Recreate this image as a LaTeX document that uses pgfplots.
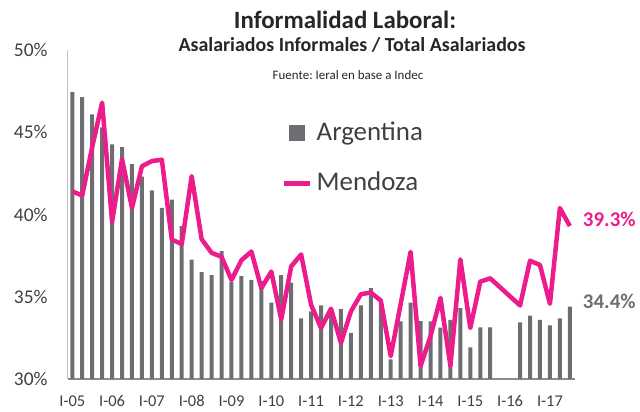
\documentclass[border=0pt]{standalone}
\usepackage{fontspec}
\setmainfont{Carlito}
\usepackage{pgfplots}
\pgfplotsset{compat=1.18}
\definecolor{argray}{HTML}{6D6E71}
\definecolor{mzpink}{HTML}{EC1C8C}
\definecolor{txt}{HTML}{404040}
\frenchspacing
\begin{document}
\begin{tikzpicture}
\useasboundingbox (0,0) rectangle (640bp,412bp);
\node[font=\bfseries\fontsize{25}{25}\selectfont, text=black!85] at (345bp,392bp) {Informalidad Laboral:};
\node[font=\bfseries\fontsize{20}{20}\selectfont, text=black!85] at (352bp,367bp) {Asalariados Informales / Total Asalariados};
\node[font=\fontsize{13}{13}\selectfont, text=black!85] at (348bp,337bp) {Fuente: Ieral en base a Indec};
\begin{axis}[
  at={(67.7bp,33bp)}, anchor=south west,
  scale only axis, width=507.3bp, height=329bp,
  xmin=-0.46, xmax=50.52, ymin=30, ymax=50,
  axis x line=bottom, axis y line=left,
  x axis line style={-, draw=black!45, line width=2.5bp},
  y axis line style={-, draw=black!25, line width=0.8bp},
  xtick={0,4,...,48},
  xticklabels={I-05,I-06,I-07,I-08,I-09,I-10,I-11,I-12,I-13,I-14,I-15,I-16,I-17},
  ytick={30,35,40,45,50},
  yticklabels={30\%,35\%,40\%,45\%,50\%},
  major tick length=0pt,
  xticklabel style={font=\fontsize{16.5}{16.5}\selectfont, text=txt, anchor=base, yshift=-27.7bp, inner sep=0pt},
  yticklabel style={font=\fontsize{19.5}{19.5}\selectfont, text=txt, anchor=east, inner sep=0pt, xshift=-20bp},
  clip=false,
  legend cell align=left,
  legend style={at={(0.4224,0.787)}, anchor=north west, draw=none, fill=none, inner sep=0pt,
    font=\fontsize{27}{27}\selectfont, text=txt, row sep=24bp,
    nodes={inner sep=0pt, text height=20bp, text depth=6bp},
    /tikz/every odd column/.append style={column sep=4bp}},
]
\addplot[ybar, bar width=4bp, fill=argray, draw=none,
  legend image code/.code={\fill[argray] (5bp,-8bp) rectangle (21bp,8bp);}]
coordinates {
(0,47.44) (1,47.14) (2,46.09) (3,45.3) (4,44.27) (5,44.1) (6,43.06) (7,42.3)
(8,41.46) (9,40.41) (10,40.9) (11,39.29) (12,37.25) (13,36.49) (14,36.32) (15,37.78)
(16,35.9) (17,36.26) (18,36.02) (19,35.95) (20,34.65) (21,36.32) (22,35.86) (23,33.68)
(24,34.11) (25,34.48) (26,34.34) (27,34.25) (28,32.8) (29,34.48) (30,35.53) (31,34.8)
(32,31.2) (33,33.5) (34,34.65) (35,33.52) (36,33.5) (37,33.12) (38,33.6) (39,34.31)
(40,31.93) (41,33.14) (42,33.14) (45,33.44) (46,33.85) (47,33.6) (48,33.26) (49,33.69)
(50,34.4)
};
\addlegendentry{Argentina}
\addplot[mzpink, line width=4.5bp, line join=round, mark=none,
  legend image code/.code={\draw[mzpink, line width=4.5bp] (0bp,0bp) -- (26bp,0bp);}]
coordinates {
(0,41.40) (1,41.16) (2,44.1) (3,46.8) (4,39.55) (5,43.37) (6,40.39) (7,42.93)
(8,43.25) (9,43.33) (10,38.48) (11,38.2) (12,42.33) (13,38.5) (14,37.67) (15,37.43)
(16,36.02) (17,37.22) (18,37.75) (19,35.52) (20,36.53) (21,33.62) (22,36.85) (23,37.57)
(24,34.51) (25,33.1) (26,34.27) (27,32.19) (28,34.11) (29,35.15) (30,35.26) (31,34.77)
(32,31.39) (33,34.56) (34,37.73) (35,30.79) (36,32.6) (37,34.93) (38,30.79) (39,37.27)
(40,33.1) (41,35.92) (42,36.12) (45,34.47) (46,37.19) (47,36.93) (48,34.57) (49,40.39)
(50,39.3)
};
\addlegendentry{Mendoza}
\node[anchor=west, inner sep=0pt, font=\bfseries\fontsize{21}{21}\selectfont, text=mzpink] at (axis cs:51.3,39.73) {39.3\%};
\node[anchor=west, inner sep=0pt, font=\bfseries\fontsize{21}{21}\selectfont, text=argray] at (axis cs:51.3,34.71) {34.4\%};
\end{axis}
\end{tikzpicture}
\end{document}
